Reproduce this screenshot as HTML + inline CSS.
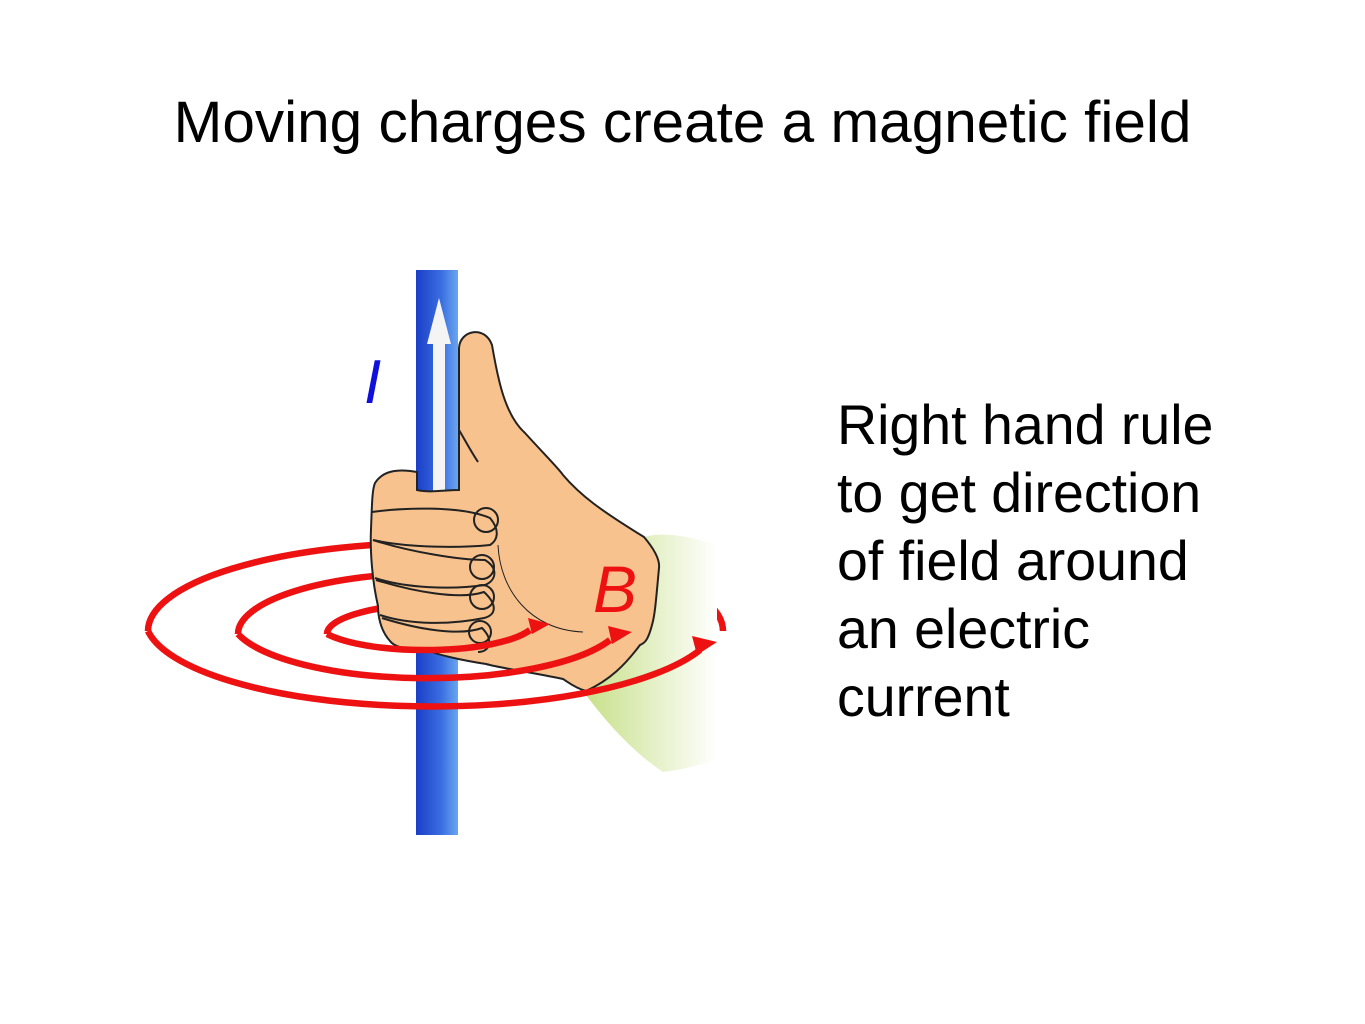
<!DOCTYPE html>
<html><head><meta charset="utf-8"><style>
html,body{margin:0;padding:0;background:#fff;}
body{width:1365px;height:1024px;position:relative;overflow:hidden;font-family:"Liberation Sans",Arial,sans-serif;}
.t{position:absolute;left:0;width:1365px;text-align:center;top:89px;font-size:58.5px;line-height:68px;color:#000;}
.r{position:absolute;left:837px;top:391px;font-size:55.5px;line-height:68px;color:#000;}
</style></head><body>
<div class="t">Moving charges create a magnetic field</div>
<svg width="1365" height="1024" style="position:absolute;left:0;top:0">
<defs>
<linearGradient id="w" x1="0" x2="1" y1="0" y2="0"><stop offset="0" stop-color="#1a3ec8"/><stop offset="0.6" stop-color="#3a6ee0"/><stop offset="1" stop-color="#6aa6f0"/></linearGradient>
<linearGradient id="g" x1="0" x2="1" y1="0" y2="0"><stop offset="0" stop-color="#c8e08a"/><stop offset="1" stop-color="#ffffff"/></linearGradient>
</defs>
<g fill="none" stroke="#ee1111" stroke-width="6.5">
<path d="M148 631 A287 88 0 0 1 723 631"/>
<path d="M238 634 A197 61 0 0 1 632 634"/>
<path d="M327 634 A111 30 0 0 1 550 634"/>
</g>
<rect x="416" y="270" width="42" height="565" fill="url(#w)"/>
<polygon points="439,298 427,344 433,344 433,498 445,498 445,344 451,344" fill="#f4f4f4"/>
<path d="M644 537 C670 530 700 540 717 545 L717 760 C700 765 680 770 663 772 C630 750 605 720 586 695 Z" fill="url(#g)"/>
<path d="M459 348 C460 330 485 325 492 345 C498 380 505 415 525 433 C545 455 560 470 563 475 C580 495 600 510 644 537 C655 550 660 560 659 568 C656 600 655 615 652 625 C648 640 645 643 640 645 C625 665 610 680 586 691 C575 688 568 682 563 679 C530 672 500 668 486 664 C460 660 440 655 432 652 C410 650 395 648 390 641 C380 630 378 615 378 606 C372 580 370 550 371 529 C372 505 372 490 375 483 C382 472 395 468 417 472 L417 490 C430 493 445 490 459 490 Z" fill="#f8c28e" stroke="#222" stroke-width="2"/>
<g fill="none" stroke="#222" stroke-width="2">
<path d="M372 512 C400 508 460 505 490 518 C500 530 498 540 490 545 C460 548 410 548 373 540"/>
<path d="M373 540 C410 552 460 560 485 560 C498 568 497 580 485 585 C450 590 405 588 375 578"/>
<path d="M376 580 C415 592 460 600 484 592 C498 605 496 615 484 618 C450 625 410 625 380 615"/>
<path d="M382 618 C420 630 460 636 482 628 C494 640 490 652 478 652"/>
<circle cx="486" cy="520" r="12"/><circle cx="482" cy="567" r="12"/><circle cx="482" cy="597" r="12"/><circle cx="480" cy="632" r="11"/>
<path d="M459 430 C465 440 470 450 478 462"/>
<path d="M498 545 C500 590 530 630 583 632" stroke-width="1"/>
</g>
<g fill="none" stroke="#ee1111" stroke-width="6.5">
<path d="M148 631 A287 88 0 0 0 700 650"/>
<path d="M238 634 A197 61 0 0 0 610 640"/>
<path d="M327 634 A111 30 0 0 0 530 630"/>
</g>
<g fill="#ee1111">
<polygon points="550,624 528,618 532,634"/>
<polygon points="632,632 608,626 612,644"/>
<polygon points="717,642 692,636 697,655"/>
</g>
<text x="593" y="612" font-family="Liberation Sans,Arial,sans-serif" font-size="66" fill="#ee1111" font-style="italic">B</text>
<text x="364" y="403" font-family="Liberation Sans,Arial,sans-serif" font-size="62" fill="#1010dd" font-style="italic">I</text>
</svg>
<div class="r">Right hand rule<br>to get direction<br>of field around<br>an electric<br>current</div>
</body></html>
